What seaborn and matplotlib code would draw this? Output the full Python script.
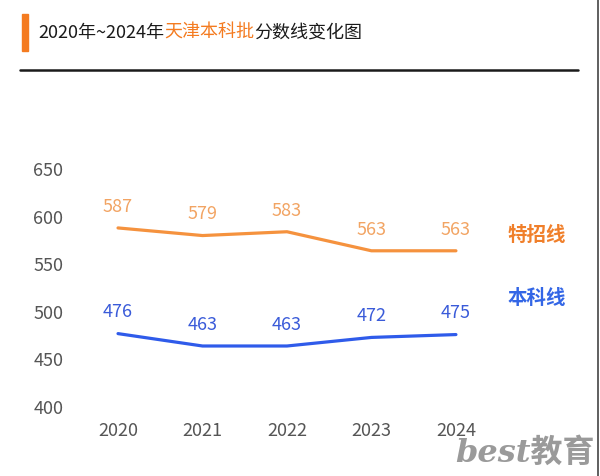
import matplotlib
matplotlib.use("Agg")
import matplotlib.pyplot as plt
import numpy as np
import pandas as pd
import seaborn as sns

years = ["2020", "2021", "2022", "2023", "2024"]
special = [587, 579, 583, 563, 563]   # 特招线
bachelor = [476, 463, 463, 472, 475]  # 本科线
series_names = ["特招线", "本科线"]
yticks = [400, 450, 500, 550, 600, 650]

line_colors = ["#F5923E", "#2F5BEA"]
label_colors = ["#F2A463", "#3A5BD9"]
name_colors = ["#F07F2A", "#3366E6"]

sns.set_theme(style="white")
plt.rcParams["font.family"] = ["Noto Sans CJK SC", "DejaVu Sans"]

df = pd.DataFrame({
    "idx": list(range(len(years))) * 2,
    "score": special + bachelor,
    "series": [series_names[0]] * len(years) + [series_names[1]] * len(years),
})

fig = plt.figure(figsize=(6, 4.77), dpi=100)
ax = fig.add_axes([0.1263, 0.1468, 0.704, 0.499])

sns.lineplot(data=df, x="idx", y="score", hue="series",
             palette=dict(zip(series_names, line_colors)),
             linewidth=2.3, legend=False, ax=ax)

ax.set_xlim(-0.5, 4.5)
ax.set_ylim(400, 650)
ax.set_xticks(range(len(years)))
ax.set_xticklabels(years)
ax.set_yticks(yticks)
ax.tick_params(axis="x", length=0, pad=11, labelsize=13, labelcolor="#555555")
ax.tick_params(axis="y", length=0, pad=9, labelsize=13, labelcolor="#555555")
ax.set_xlabel("")
ax.set_ylabel("")
sns.despine(ax=ax, left=True, bottom=True)

for vals, col in zip([special, bachelor], label_colors):
    for i, v in enumerate(vals):
        ax.annotate(str(v), (i, v), xytext=(0, 16), textcoords="offset points",
                    ha="center", va="center", fontsize=13, color=col)

# series names to the right of the last point
for vals, name, col, dy in zip([special, bachelor], series_names, name_colors, [11.5, 26.6]):
    ax.annotate(name, (4, vals[-1]), xytext=(58, dy), textcoords="offset points",
                ha="center", va="center", fontsize=14, fontweight="bold",
                color=col, annotation_clip=False)

# title block
fig.patches.append(plt.Rectangle((22 / 600, 1 - 52 / 477), 6 / 600, 37 / 477,
                                 transform=fig.transFigure, color="#F47B20"))
fig.lines.append(plt.Line2D([20 / 600, 578 / 600], [1 - 71 / 477, 1 - 71 / 477],
                            transform=fig.transFigure, color="#1a1a1a", linewidth=1.8))
fig.lines.append(plt.Line2D([598 / 600, 598 / 600], [0, 1],
                            transform=fig.transFigure, color="#444444", linewidth=1.2))

renderer = fig.canvas.get_renderer()
x = 38 / 600
for part, col in [("2020年~2024年", "#1a1a1a"), ("天津本科批", "#F47B20"),
                  ("分数线变化图", "#1a1a1a")]:
    t = fig.text(x, 1 - 33 / 477, part, fontsize=13, color=col, va="center",
                 ha="left", fontweight="medium")
    bb = t.get_window_extent(renderer=renderer)
    x += bb.width / fig.bbox.width

fig.text(595 / 600, 1 - 453 / 477, "best教育", fontsize=23, color="#9a9a9a",
         family=["DejaVu Serif", "Noto Sans CJK SC"], style="italic",
         fontweight="bold", ha="right", va="center")

fig.savefig("out.png", dpi=100)
